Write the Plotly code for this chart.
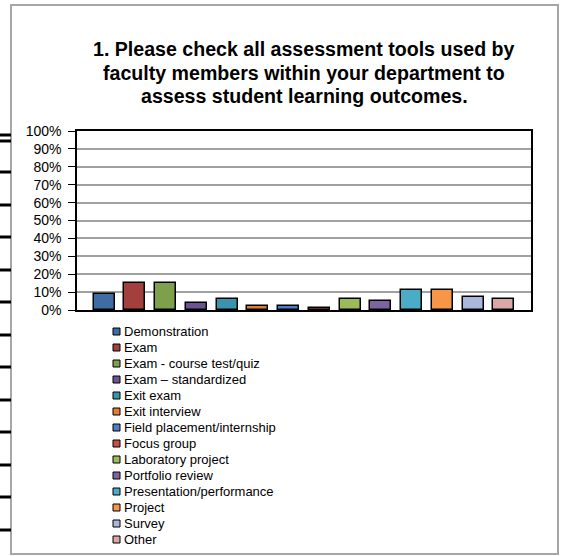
import plotly.graph_objects as go

# ---- data ----
categories = [
    "Demonstration", "Exam", "Exam - course test/quiz", "Exam \u2013 standardized",
    "Exit exam", "Exit interview", "Field placement/internship", "Focus group",
    "Laboratory project", "Portfolio review", "Presentation/performance",
    "Project", "Survey", "Other",
]
values = [0.09, 0.15, 0.15, 0.04, 0.06, 0.02, 0.02, 0.01, 0.06, 0.05, 0.11, 0.11, 0.07, 0.06]
colors = [
    "#3E6DA4", "#A3403D", "#7FA04A", "#6B5491", "#3A94AD", "#E07E35", "#4A7FC7",
    "#C94E4B", "#9BBB59", "#7F64A2", "#4BACC6", "#F79646", "#A9B9DB", "#D9A7A6",
]
title_lines = [
    "1. Please check all assessment tools used by",
    "faculty members within your department to",
    "assess student learning outcomes.",
]
tick_vals = [i / 10 for i in range(11)]
tick_text = [f"{i * 10}%" for i in range(11)]

# ---- layout geometry (pixels) ----
W, H = 562, 556
L, R, T, B = 77, 531, 131, 310
PW, PH = R - L, B - T


def xp(px):
    return (px - L) / PW


def yp(py):
    return (B - py) / PH


fig = go.Figure()
fig.add_trace(go.Bar(
    x=list(range(len(categories))),
    y=values,
    width=0.68,
    marker=dict(color=colors, line=dict(color="black", width=1.5)),
    hovertext=categories,
    showlegend=False,
))

shapes = []
annotations = []

# outer gray frame
shapes.append(dict(type="rect", xref="paper", yref="paper",
                   x0=xp(11), x1=xp(558), y0=yp(5), y1=yp(554),
                   line=dict(color="#A6A6A6", width=2), layer="below"))

# cropped tick fragments at left edge
edge_ticks = [135, 141, 172, 205, 237, 270, 302, 335, 367, 400, 432, 465, 497, 530]
for ty in edge_ticks:
    shapes.append(dict(type="line", xref="paper", yref="paper",
                       x0=xp(0), x1=xp(11), y0=yp(ty), y1=yp(ty),
                       line=dict(color="black", width=3)))

# title lines
title_y = [49, 72.5, 96]
for txt, ty in zip(title_lines, title_y):
    annotations.append(dict(text=f"<b>{txt}</b>", xref="paper", yref="paper",
                            x=xp(304), y=yp(ty), xanchor="center", yanchor="middle",
                            showarrow=False,
                            font=dict(family="Liberation Sans, Arial", size=19.6, color="black")))

# manual legend
leg_x, leg_y0, leg_dy = 113, 331.5, 16
for i, (name, c) in enumerate(zip(categories, colors)):
    cy = leg_y0 + i * leg_dy
    shapes.append(dict(type="rect", xref="paper", yref="paper",
                       x0=xp(leg_x), x1=xp(leg_x + 7), y0=yp(cy - 3.5), y1=yp(cy + 3.5),
                       fillcolor=c, line=dict(color="black", width=1)))
    annotations.append(dict(text=name, xref="paper", yref="paper",
                            x=xp(leg_x + 9), y=yp(cy), xanchor="left", yanchor="middle",
                            showarrow=False,
                            font=dict(family="Liberation Sans, Arial", size=13, color="black")))

fig.update_layout(
    width=W, height=H,
    margin=dict(l=L, r=W - R, t=T, b=H - B, pad=0),
    paper_bgcolor="white", plot_bgcolor="white",
    shapes=shapes, annotations=annotations,
    showlegend=False,
    bargap=0,
    font=dict(family="Liberation Sans, Arial", color="black"),
)
fig.update_xaxes(range=[-0.88, 13.88], showticklabels=False, ticks="",
                 showgrid=False, zeroline=False,
                 showline=True, linecolor="black", linewidth=1.5, mirror=True)
fig.update_yaxes(range=[0, 1], tickvals=tick_vals, ticktext=tick_text,
                 ticks="outside", ticklen=7, tickcolor="black", tickwidth=1,
                 ticklabelstandoff=4,
                 tickfont=dict(size=14, family="Liberation Sans, Arial", color="black"),
                 showgrid=True, gridcolor="#A0A0A0", gridwidth=1.5,
                 zeroline=False,
                 showline=True, linecolor="black", linewidth=1.5, mirror=True)

fig.write_html("out.html", config={"displayModeBar": False},
               post_script="document.body.style.margin='0';")
